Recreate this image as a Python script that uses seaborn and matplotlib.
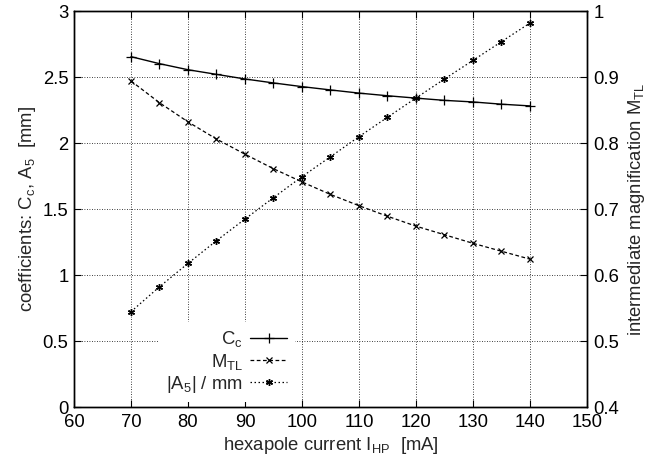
import matplotlib
matplotlib.use("Agg")
import matplotlib.pyplot as plt
import seaborn as sns
import pandas as pd

# hexapole excitation [mA]
current_ma = [70, 75, 80, 85, 90, 95, 100, 105, 110, 115, 120, 125, 130, 135, 140]
# chromatic aberration coefficient C_c [mm]
cc_mm = [2.654, 2.601, 2.555, 2.520, 2.485, 2.455, 2.427, 2.402, 2.378,
         2.358, 2.340, 2.323, 2.311, 2.294, 2.281]
# intermediate magnification of the transfer lens
m_tl = [0.894, 0.861, 0.832, 0.806, 0.783, 0.761, 0.741, 0.722, 0.705,
        0.689, 0.674, 0.661, 0.648, 0.636, 0.624]
# |A5| [mm]
a5_mm = [0.722, 0.911, 1.088, 1.260, 1.424, 1.586, 1.745, 1.896, 2.048,
         2.195, 2.341, 2.485, 2.626, 2.768, 2.909]

x_ticks = [60, 70, 80, 90, 100, 110, 120, 130, 140, 150]
y_ticks = [0, 0.5, 1, 1.5, 2, 2.5, 3]
y2_ticks = [0.4, 0.5, 0.6, 0.7, 0.8, 0.9, 1.0]

df = pd.DataFrame({"I": current_ma, "Cc": cc_mm, "MTL": m_tl, "A5": a5_mm})

sns.set_style("ticks")
plt.rcParams["font.family"] = ["Liberation Sans", "DejaVu Sans"]
plt.rcParams["mathtext.fontset"] = "custom"
plt.rcParams["mathtext.rm"] = "Liberation Sans"
plt.rcParams["mathtext.it"] = "Liberation Sans:italic"
plt.rcParams["mathtext.default"] = "rm"

fig = plt.figure(figsize=(6.63, 4.65), dpi=100)
ax = fig.add_axes([74 / 663, 1 - 407 / 465, (587 - 74) / 663, (407 - 11) / 465])
ax2 = ax.twinx()

fs = 13.3
sns.lineplot(data=df, x="I", y="Cc", ax=ax, color="black", lw=1.0,
             marker="+", markersize=6.5, mew=0.9, mec="black", mfc="black",
             label=r"C$_\mathrm{c}$", legend=False)
sns.lineplot(data=df, x="I", y="MTL", ax=ax2, color="black", lw=0.9,
             linestyle=(0, (3.0, 2.0)), marker="x", markersize=5, mew=0.9,
             mec="black", mfc="black", label=r"M$_\mathrm{TL}$", legend=False)
sns.lineplot(data=df, x="I", y="A5", ax=ax, color="black", lw=0.9,
             linestyle=(0, (1.2, 2.0)), marker=(6, 2, 0), markersize=5, mew=1.0,
             mec="black", mfc="black", label=r"|A$_5$| / mm", legend=False)

ax.set_xlim(60, 150)
ax.set_ylim(0, 3)
ax2.set_ylim(0.4, 1.0)
ax.set_xticks(x_ticks)
ax.set_yticks(y_ticks)
ax2.set_yticks(y2_ticks)
ax.set_xticklabels([str(t) for t in x_ticks])
ax.set_yticklabels(["0", "0.5", "1", "1.5", "2", "2.5", "3"])
ax2.set_yticklabels(["0.4", "0.5", "0.6", "0.7", "0.8", "0.9", "1"])

ax.grid(True, color="black", linestyle=(0, (1, 2)), linewidth=0.6)
ax.set_axisbelow(True)

for a in (ax, ax2):
    for s in a.spines.values():
        s.set_linewidth(1.0)
        s.set_color("black")
ax.tick_params(axis="both", direction="in", length=5, width=0.8, labelsize=fs,
               top=True, pad=4, colors="black")
ax.tick_params(axis="x", pad=5)
ax2.tick_params(axis="y", direction="in", length=5, width=0.8, labelsize=fs,
                pad=4.5, colors="black")

ax.set_xlabel(r"hexapole current I$_\mathrm{HP}$  [mA]", fontsize=fs, labelpad=3)
ax.set_ylabel(r"coefficients: C$_\mathrm{c}$, A$_5$  [mm]", fontsize=fs, labelpad=3)
ax2.set_ylabel(r"intermediate magnification M$_\mathrm{TL}$", fontsize=fs, labelpad=5)

h1, l1 = ax.get_legend_handles_labels()
h2, l2 = ax2.get_legend_handles_labels()
handles = [h1[0], h2[0], h1[1]]
labels = [l1[0], l2[0], l1[1]]
leg = ax2.legend(handles, labels, loc="lower left", bbox_to_anchor=(0.165, 0.012),
                 markerfirst=False, frameon=True, framealpha=1.0, facecolor="white",
                 edgecolor="none", fancybox=False, fontsize=fs, handlelength=2.0,
                 handletextpad=0.4, labelspacing=0.12, borderpad=0.4, borderaxespad=0)

fig.savefig("out.png", dpi=100)
